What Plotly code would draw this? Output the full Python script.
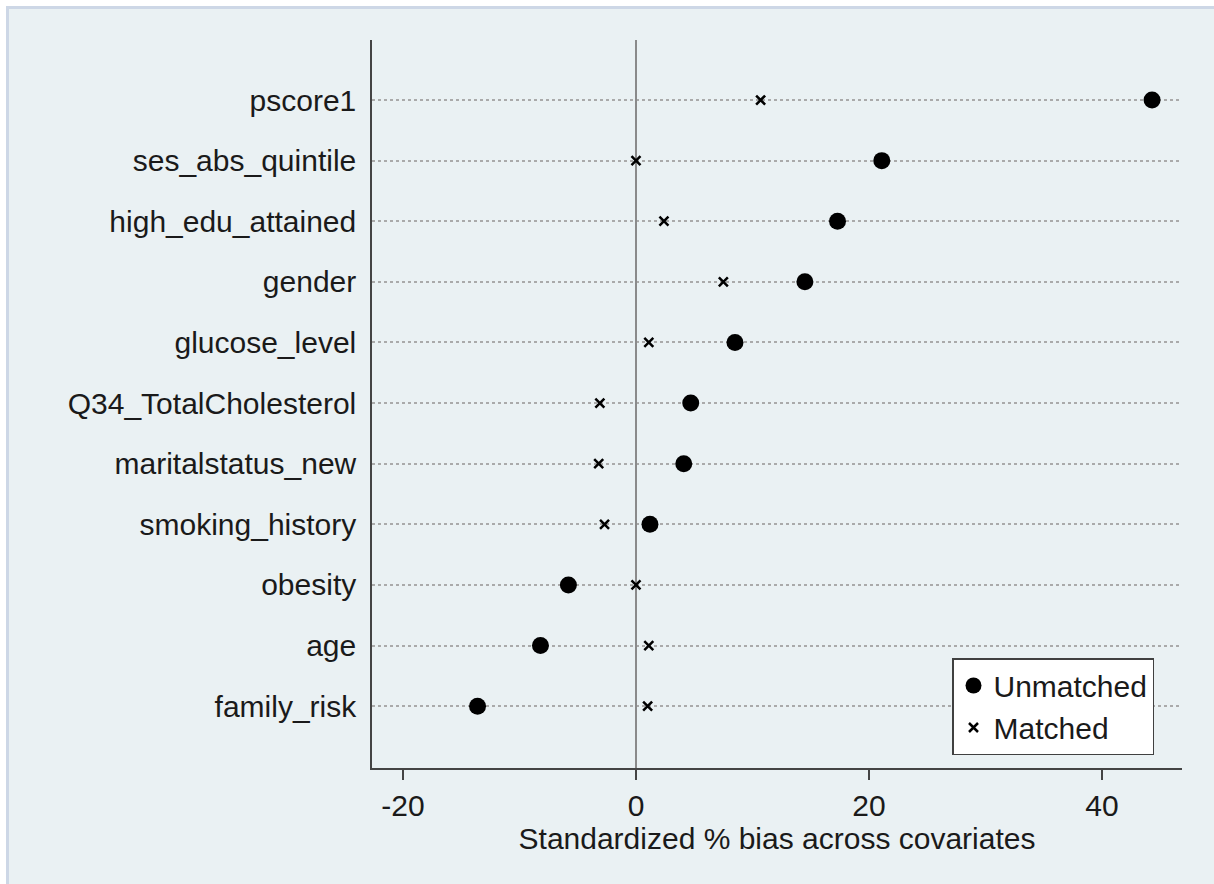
import plotly.graph_objects as go

categories = ["pscore1", "ses_abs_quintile", "high_edu_attained", "gender", "glucose_level",
              "Q34_TotalCholesterol", "maritalstatus_new", "smoking_history", "obesity", "age",
              "family_risk"]
unmatched = [44.3, 21.1, 17.3, 14.5, 8.5, 4.7, 4.1, 1.2, -5.8, -8.2, -13.6]
matched = [10.7, 0.0, 2.4, 7.5, 1.1, -3.1, -3.2, -2.7, 0.0, 1.1, 1.0]
x_ticks = [-20, 0, 20, 40]
x_tick_labels = ["-20", "0", "20", "40"]

W, H = 1214, 884
L, R, T, B = 372, 32, 40, 116
pw, ph = W - L - R, H - T - B

def px(x):
    return (x - L) / pw

def py(y):
    return (H - B - y) / ph

font = "Liberation Sans, Arial, sans-serif"

fig = go.Figure()
fig.add_trace(go.Scatter(x=unmatched, y=categories, mode="markers", name="Unmatched",
                         marker=dict(symbol="circle", size=17, color="black")))
fig.add_trace(go.Scatter(x=matched, y=categories, mode="markers", name="Matched",
                         marker=dict(symbol="x-thin", size=9, color="black",
                                     line=dict(width=2.5, color="black"))))

fig.add_shape(type="rect", xref="paper", yref="paper", layer="below",
              x0=px(7.5), x1=px(1230), y0=py(900), y1=py(7.5),
              fillcolor="#eaf1f3", line=dict(color="#cdd7e6", width=3))

fig.update_layout(
    width=W, height=H, autosize=False,
    margin=dict(l=L, r=R, t=T, b=B),
    paper_bgcolor="white", plot_bgcolor="white",
    font=dict(family=font, size=30, color="#1a1a1a"),
    showlegend=True,
    legend=dict(x=px(952), y=py(658), xanchor="left", yanchor="top",
                bgcolor="white", bordercolor="#404040", borderwidth=1.5,
                font=dict(size=30, color="#1a1a1a"), itemsizing="trace", tracegroupgap=0,
                itemwidth=30),
    xaxis=dict(range=[-22.66, 46.87], tickvals=x_ticks, ticktext=x_tick_labels,
               ticks="outside", ticklen=10,
               tickwidth=1.5, tickcolor="#444", showline=True, linecolor="#444", linewidth=1.5,
               showgrid=False, zeroline=True, zerolinecolor="#8a8a8a", zerolinewidth=1.5,
               title=dict(text="Standardized % bias across covariates", standoff=4,
                          font=dict(size=30)),
               tickfont=dict(size=30)),
    yaxis=dict(type="category", categoryorder="array", categoryarray=categories[::-1],
               range=[-1.02, 10.99], showline=True, linecolor="#444", linewidth=1.5,
               showgrid=True, gridcolor="#aaaaaa", griddash="dot", gridwidth=1.5,
               ticks="", ticklabelstandoff=8, tickfont=dict(size=30)),
)

fig.write_html("out.html")
